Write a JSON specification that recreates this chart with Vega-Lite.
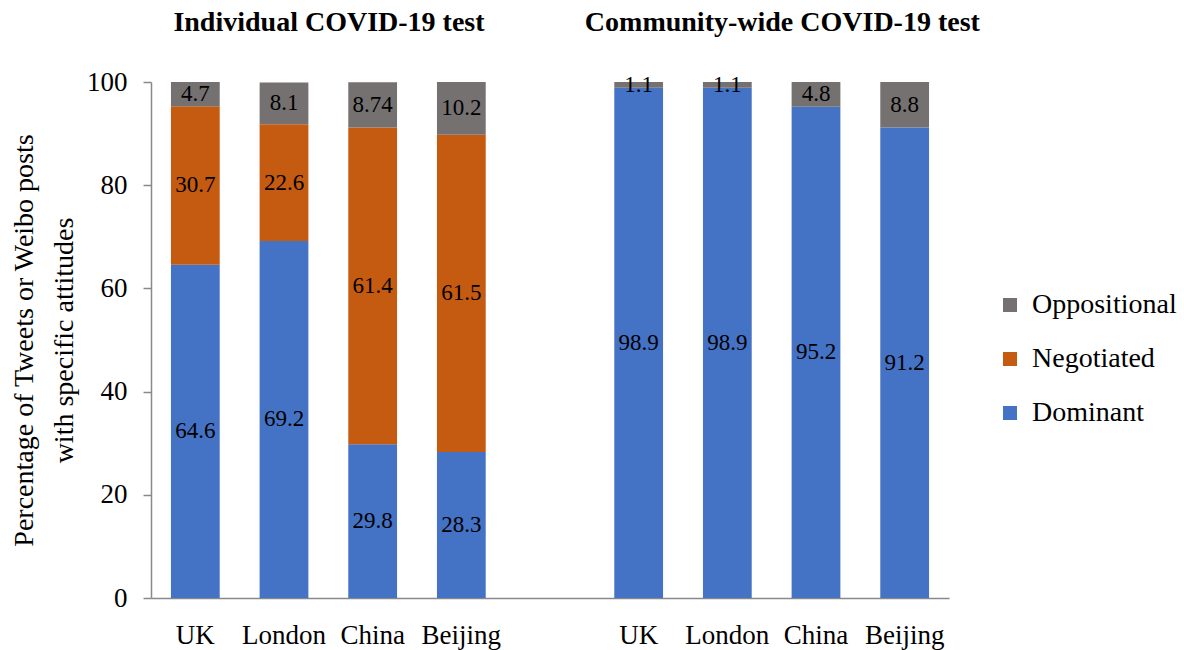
{
  "$schema": "https://vega.github.io/schema/vega-lite/v6.json",
  "width": 798,
  "height": 516,
  "autosize": {"type": "none"},
  "padding": {"left": 151, "top": 82, "right": 235, "bottom": 52},
  "background": "white",
  "config": {
    "font": "Liberation Serif, Times New Roman, serif",
    "view": {"stroke": null},
    "text": {"font": "Liberation Serif, Times New Roman, serif"},
    "axis": {"grid": false, "domainColor": "#898989", "tickColor": "#898989", "labelColor": "black", "titleColor": "black", "labelFont": "Liberation Serif, Times New Roman, serif", "titleFont": "Liberation Serif, Times New Roman, serif"},
    "legend": {"labelFont": "Liberation Serif, Times New Roman, serif"}
  },
  "datasets": {
    "bars": [
      {"bar": "I|UK", "attitude": "Dominant", "value": 64.6},
      {"bar": "I|UK", "attitude": "Negotiated", "value": 30.7},
      {"bar": "I|UK", "attitude": "Oppositional", "value": 4.7},
      {"bar": "I|London", "attitude": "Dominant", "value": 69.2},
      {"bar": "I|London", "attitude": "Negotiated", "value": 22.6},
      {"bar": "I|London", "attitude": "Oppositional", "value": 8.1},
      {"bar": "I|China", "attitude": "Dominant", "value": 29.8},
      {"bar": "I|China", "attitude": "Negotiated", "value": 61.4},
      {"bar": "I|China", "attitude": "Oppositional", "value": 8.74},
      {"bar": "I|Beijing", "attitude": "Dominant", "value": 28.3},
      {"bar": "I|Beijing", "attitude": "Negotiated", "value": 61.5},
      {"bar": "I|Beijing", "attitude": "Oppositional", "value": 10.2},
      {"bar": "C|UK", "attitude": "Dominant", "value": 98.9},
      {"bar": "C|UK", "attitude": "Oppositional", "value": 1.1},
      {"bar": "C|London", "attitude": "Dominant", "value": 98.9},
      {"bar": "C|London", "attitude": "Oppositional", "value": 1.1},
      {"bar": "C|China", "attitude": "Dominant", "value": 95.2},
      {"bar": "C|China", "attitude": "Oppositional", "value": 4.8},
      {"bar": "C|Beijing", "attitude": "Dominant", "value": 91.2},
      {"bar": "C|Beijing", "attitude": "Oppositional", "value": 8.8}
    ],
    "groups": [
      {"test": "Individual COVID-19 test"},
      {"test": "Community-wide COVID-19 test"}
    ]
  },
  "layer": [
    {
      "data": {"name": "bars"},
      "mark": {"type": "bar"},
      "encoding": {
        "x": {
          "field": "bar", "type": "nominal",
          "scale": {"domain": ["I|UK", "I|London", "I|China", "I|Beijing", "gap", "C|UK", "C|London", "C|China", "C|Beijing"], "paddingInner": 0.45, "paddingOuter": 0.225},
          "axis": {"title": null, "labelExpr": "split(datum.label, '|')[1] || ''", "labelAngle": 0, "labelFontSize": 27, "labelPadding": 24, "ticks": false, "domainWidth": 1.5}
        },
        "y": {
          "field": "value", "type": "quantitative", "stack": "zero",
          "scale": {"domain": [0, 100], "nice": false},
          "axis": {"title": ["Percentage of Tweets or Weibo posts", "with specific attitudes"], "titleFontSize": 28, "titleFontWeight": "normal", "titleLineHeight": 40, "titlePadding": 8, "values": [0, 20, 40, 60, 80, 100], "labelFontSize": 27, "labelPadding": 16, "tickSize": 8, "tickWidth": 1.5, "domainWidth": 1.5}
        },
        "color": {
          "field": "attitude", "type": "nominal",
          "scale": {"domain": ["Oppositional", "Negotiated", "Dominant"], "range": ["#767171", "#C55A11", "#4472C4"]},
          "legend": {"title": null, "orient": "none", "legendX": 845, "legendY": 209, "padding": 0, "labelFontSize": 28, "labelLimit": 0, "symbolType": "square", "symbolSize": 196, "symbolStrokeWidth": 0, "labelOffset": 8, "rowPadding": 26, "labelColor": "black"}
        },
        "order": {"field": "attitude", "sort": "ascending"}
      }
    },
    {
      "data": {"name": "bars"},
      "mark": {"type": "text", "fontSize": 23, "color": "black", "baseline": "middle"},
      "encoding": {
        "x": {
          "field": "bar", "type": "nominal",
          "scale": {"domain": ["I|UK", "I|London", "I|China", "I|Beijing", "gap", "C|UK", "C|London", "C|China", "C|Beijing"], "paddingInner": 0.45, "paddingOuter": 0.225},
          "axis": null
        },
        "y": {
          "field": "value", "type": "quantitative", "stack": "zero", "bandPosition": 0.5,
          "scale": {"domain": [0, 100], "nice": false},
          "axis": {"title": ["Percentage of Tweets or Weibo posts", "with specific attitudes"], "titleFontSize": 28, "titleFontWeight": "normal", "titleLineHeight": 40, "titlePadding": 8, "values": [0, 20, 40, 60, 80, 100], "labelFontSize": 27, "labelPadding": 16, "tickSize": 8, "tickWidth": 1.5, "domainWidth": 1.5}
        },
        "detail": {"field": "attitude", "type": "nominal"},
        "order": {"field": "attitude", "sort": "ascending"},
        "text": {"field": "value", "type": "nominal"}
      }
    },
    {
      "data": {"name": "groups"},
      "mark": {"type": "point", "opacity": 0},
      "encoding": {
        "x": {
          "field": "test", "type": "nominal",
          "scale": {"type": "point", "padding": 0.38, "align": 0.515, "domain": ["Individual COVID-19 test", "Community-wide COVID-19 test"]},
          "axis": {"orient": "top", "title": null, "domain": false, "ticks": false, "labelAngle": 0, "labelFontSize": 28, "labelFontWeight": "bold", "labelLimit": 0, "labelPadding": 46, "labelColor": "black"}
        }
      }
    }
  ],
  "resolve": {"scale": {"x": "independent"}}
}
